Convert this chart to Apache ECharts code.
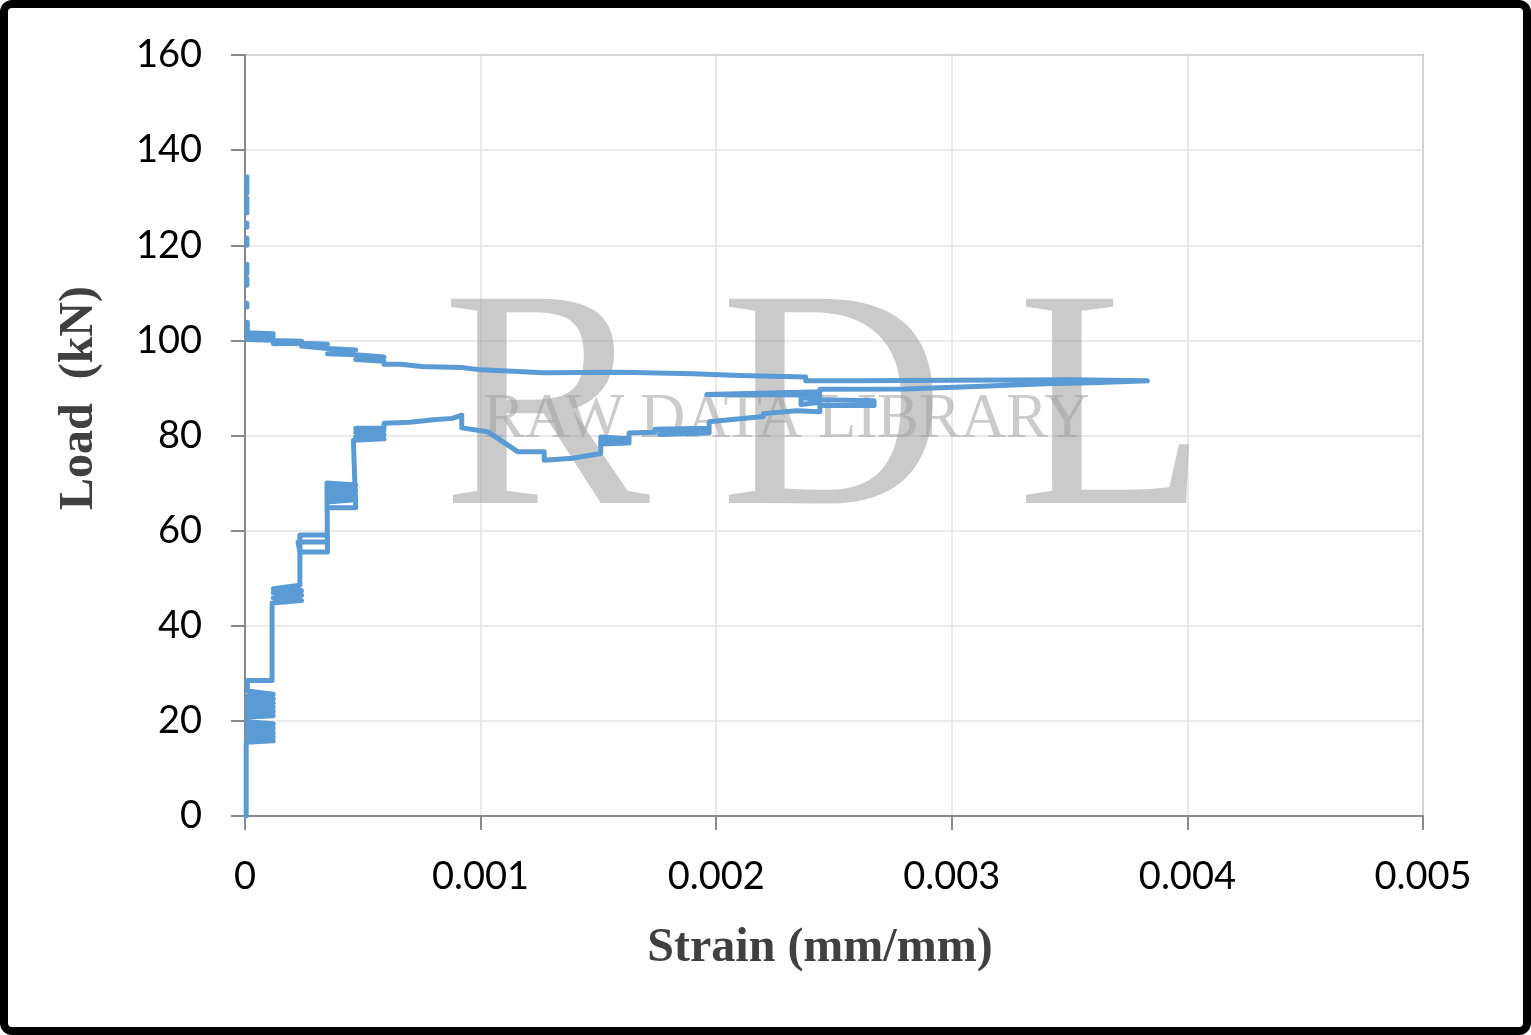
<!DOCTYPE html>
<html>
<head>
<meta charset="utf-8">
<title>Load - Strain</title>
<script src="https://cdn.jsdelivr.net/npm/echarts@6/dist/echarts.min.js"></script>
<style>
  html, body { margin: 0; padding: 0; background: #fff; }
  #main { width: 1531px; height: 1035px; }
</style>
</head>
<body>
<div id="main"></div>
<script>
// axis ticks
var xTicks = [0, 0.001, 0.002, 0.003, 0.004, 0.005];
var yTicks = [0, 20, 40, 60, 80, 100, 120, 140, 160];

// loading branch [strain, load] - rising part up to the first peak
var loadingPath = [
  [0.000005, 0], [0.000005, 15.5],
  [0.00012, 15.8], [0.00001, 16.3], [0.00012, 16.7], [0.00001, 17.2], [0.00012, 17.6], [0.00001, 18.1],
  [0.00012, 18.5], [0.00001, 19], [0.00012, 19.4], [0.00001, 19.8],
  [0.00001, 20.8], [0.00012, 21.1], [0.00001, 21.6], [0.00012, 22], [0.00001, 22.5], [0.00012, 22.9],
  [0.00001, 23.4], [0.00012, 23.8], [0.00001, 24.3], [0.00012, 24.7], [0.00001, 25.2], [0.00012, 25.6],
  [0.00001, 26.3], [0.00001, 28.5], [0.000115, 28.5], [0.000115, 44.8],
  [0.00024, 45.3], [0.00012, 45.9], [0.00024, 46.4], [0.00012, 47], [0.00024, 47.4], [0.00012, 47.8], [0.000233, 48.5],
  [0.000233, 59.1], [0.00035, 59.1], [0.00035, 57.6], [0.000225, 57.6], [0.000233, 55.5], [0.00035, 55.5],
  [0.000348, 70], [0.00047, 69.6], [0.00035, 69], [0.00047, 68.5], [0.00035, 68], [0.00047, 67.4], [0.00035, 67],
  [0.00047, 66.5], [0.000348, 66], [0.000348, 64.8], [0.00047, 64.8], [0.00046, 79],
  [0.00059, 79.3], [0.00047, 79.8], [0.00059, 80.2], [0.00047, 80.7], [0.00059, 81.1], [0.00047, 81.5],
  [0.00059, 81.6], [0.00059, 82.6],
  [0.0007, 82.8], [0.0008, 83.3], [0.00088, 83.6], [0.00092, 84.3]
];

// softening after the first peak and the second rise
var softeningPath = [
  [0.00092, 81.6], [0.00103, 80.8], [0.0011, 78.5], [0.001157, 76.6], [0.00127, 76.6], [0.00127, 74.8],
  [0.00139, 75.2], [0.00151, 76.2], [0.00151, 79.7], [0.00163, 79.3], [0.00151, 78.8], [0.00163, 78.4],
  [0.00151, 78.2], [0.00163, 78.5], [0.00163, 80.5], [0.00174, 80.7], [0.00174, 81.3], [0.00197, 81.5],
  [0.00176, 81], [0.00197, 80.8], [0.00176, 80.2], [0.00197, 80.5],
  [0.00197, 82.9], [0.0022, 84], [0.0022, 84.6], [0.00234, 85.2], [0.00244, 85], [0.00244, 86.3],
  [0.00267, 86.3], [0.00267, 87.3], [0.00244, 87.5], [0.00236, 88], [0.00236, 86.5], [0.00244, 87],
  [0.00244, 88.5], [0.00196, 88.6], [0.00244, 89.2], [0.00244, 89.7], [0.0028, 89.8], [0.0031, 90.3],
  [0.0034, 90.9], [0.0036, 91.1], [0.00383, 91.5]
];

// return branch, strain falling back while load rises
var returnPath = [
  [0.0035, 91.7], [0.003, 91.6], [0.0026, 91.5], [0.00238, 91.5], [0.00238, 92.3], [0.0021, 92.6],
  [0.0019, 93], [0.0016, 93.3], [0.00127, 93.2], [0.001, 93.8], [0.00092, 94.3], [0.00075, 94.5],
  [0.00066, 95], [0.00059, 95], [0.00059, 95.6], [0.00047, 96], [0.00059, 96.5], [0.00047, 97],
  [0.00047, 97.2], [0.00035, 97.2], [0.00047, 98], [0.00035, 98.3], [0.00035, 98.6], [0.00024, 98.8],
  [0.00035, 99.2], [0.00024, 99.4], [0.00024, 99.5], [0.00012, 99.3], [0.00024, 99.8], [0.00012, 100],
  [0.00012, 100.3], [0.00001, 100.2], [0.00012, 100.8], [0.00001, 101], [0.00012, 101.4],
  [0.00001, 101.6], [0.00001, 103.8]
];

// broken readings along the load axis near zero strain
var tailPath = [
  [0.000008, 107], [0.000008, 107.8], null,
  [0.000008, 111.6], [0.000008, 113], null,
  [0.000008, 114], [0.000008, 116], null,
  [0.000008, 120], [0.000008, 121.5], null,
  [0.000008, 123.8], [0.000008, 124.7], null,
  [0.000008, 126.8], [0.000008, 130], null,
  [0.000008, 131], [0.000008, 134.4]
];

var lineColor = '#5B9BD5';
var mainPath = loadingPath.concat(softeningPath, returnPath);

function xLabel(v) {
  return v === 0 ? '0' : v.toFixed(3);
}

var chart = echarts.init(document.getElementById('main'));

var option = {
  animation: false,
  backgroundColor: '#fff',
  grid: {
    left: 245, top: 55, right: 108, bottom: 219,
    show: true, borderColor: '#A6A6A6', borderWidth: 2, backgroundColor: 'transparent'
  },
  xAxis: {
    type: 'value',
    min: xTicks[0], max: xTicks[xTicks.length - 1], interval: 0.001,
    axisLine: { lineStyle: { color: '#898989', width: 2 } },
    axisTick: { show: true, length: 14, inside: false, lineStyle: { color: '#898989', width: 2 } },
    splitLine: { show: true, lineStyle: { color: '#E3E3E3', width: 1.5 } },
    axisLabel: {
      formatter: xLabel, color: '#000', fontFamily: 'Lato', fontSize: 38, margin: 42
    }
  },
  yAxis: {
    type: 'value',
    min: yTicks[0], max: yTicks[yTicks.length - 1], interval: 20,
    axisLine: { show: true, lineStyle: { color: '#898989', width: 2 } },
    axisTick: { show: true, length: 14, inside: false, lineStyle: { color: '#898989', width: 2 } },
    splitLine: { show: true, lineStyle: { color: '#E3E3E3', width: 1.5 } },
    axisLabel: { color: '#000', fontFamily: 'Lato', fontSize: 38, margin: 43 }
  },
  graphic: [
    // watermark
    { type: 'text', z: 1, silent: true, x: 442, y: 421,
      style: { text: 'R', fill: 'rgba(150,150,150,0.5)', font: '312px "Liberation Serif"', verticalAlign: 'middle' } },
    { type: 'text', z: 1, silent: true, x: 720, y: 421,
      style: { text: 'D', fill: 'rgba(150,150,150,0.5)', font: '312px "Liberation Serif"', verticalAlign: 'middle' } },
    { type: 'text', z: 1, silent: true, x: 1017, y: 421,
      style: { text: 'L', fill: 'rgba(150,150,150,0.5)', font: '312px "Liberation Serif"', verticalAlign: 'middle' } },
    { type: 'text', z: 1, silent: true, x: 483, y: 420, scaleX: 0.98,
      style: { text: 'RAW DATA LIBRARY', fill: 'rgba(160,160,160,0.55)', font: '64px "Liberation Serif"', verticalAlign: 'middle' } },
    // axis titles
    { type: 'text', x: 820, y: 949,
      style: { text: 'Strain (mm/mm)', fill: '#404040', font: 'bold 48px "Liberation Serif"', align: 'center', verticalAlign: 'middle' } },
    { type: 'text', x: 80, y: 398, rotation: Math.PI / 2,
      style: { text: 'Load  (kN)', fill: '#404040', font: 'bold 48px "Liberation Serif"', align: 'center', verticalAlign: 'middle' } },
    // outer frame
    { type: 'rect', z: 10, silent: true,
      shape: { x: 4, y: 4, width: 1523, height: 1027, r: 8 },
      style: { fill: 'none', stroke: '#000', lineWidth: 8 } }
  ],
  series: [
    {
      type: 'line', data: mainPath, showSymbol: false, z: 3,
      lineStyle: { color: lineColor, width: 5, join: 'round', cap: 'round' }
    },
    {
      type: 'line', data: tailPath, showSymbol: false, connectNulls: false, z: 3,
      lineStyle: { color: lineColor, width: 5, cap: 'round' }
    }
  ]
};

chart.setOption(option);
</script>
</body>
</html>
